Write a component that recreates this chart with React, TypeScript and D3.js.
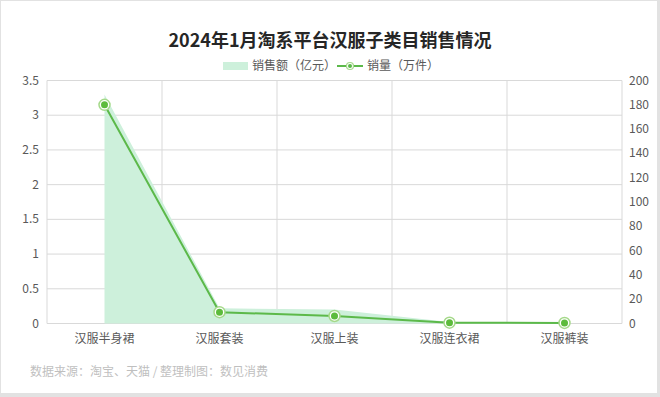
import React from "react";
import * as d3 from "d3";

const categories = ["汉服半身裙", "汉服套装", "汉服上装", "汉服连衣裙", "汉服裤装"];
const salesValues = [3.3, 0.22, 0.2, 0.02, 0.01]; // 销售额（亿元）
const volumeValues = [180, 9.3, 6.2, 0.7, 0.5]; // 销量（万件）
const leftTicks = [0, 0.5, 1, 1.5, 2, 2.5, 3, 3.5];
const rightTicks = [0, 20, 40, 60, 80, 100, 120, 140, 160, 180, 200];

const W = 660;
const H = 397;
const FONT = "'Noto Sans CJK SC', 'Noto Sans', sans-serif";

export default function App() {
  const left = 47;
  const right = 622;
  const top = 80.5;
  const bottom = 323.5;

  const x = d3.scaleBand<string>().domain(categories).range([left, right]).padding(0);
  const cx = (c: string) => (x(c) as number) + x.bandwidth() / 2;
  const yL = d3.scaleLinear().domain([0, 3.5]).range([bottom, top]);
  const yR = d3.scaleLinear().domain([0, 200]).range([bottom, top]);

  const areaGen = d3
    .area<number>()
    .x((_, i) => cx(categories[i]))
    .y0(bottom)
    .y1((d) => yL(d));
  const lineGen = d3
    .line<number>()
    .x((_, i) => cx(categories[i]))
    .y((d) => yR(d));

  const boundaries = categories.map((c) => x(c) as number).concat([right]);
  const grid = "#d9d9d9";
  const lineColor = "#5cb94a";
  const areaColor = "#cdf0db";

  return (
    <svg
      width={W}
      height={H}
      style={{ position: "absolute", left: 0, top: 0, display: "block" }}
      fontFamily={FONT}
    >
      <rect x={0} y={0} width={W} height={H} fill="#e2e2e2" />
      <rect x={1} y={1} width={W - 4} height={H - 5} fill="#ffffff" />

      <text x={330} y={47} textAnchor="middle" fontSize={18} fontWeight="bold" fill="#262626">
        2024年1月淘系平台汉服子类目销售情况
      </text>

      {/* legend */}
      <rect x={223} y={62} width={25} height={8} fill={areaColor} />
      <text x={252} y={70} fontSize={12} fill="#595959">
        销售额（亿元）
      </text>
      <line x1={337} x2={363} y1={66} y2={66} stroke={lineColor} strokeWidth={2} />
      <circle cx={350} cy={66} r={3.5} fill="#fff" stroke="#a5d98a" strokeWidth={1.2} />
      <circle cx={350} cy={66} r={2} fill={lineColor} />
      <text x={367} y={70} fontSize={12} fill="#595959">
        销量（万件）
      </text>

      {/* gridlines */}
      {leftTicks.map((t) => (
        <line key={"h" + t} x1={left} x2={right} y1={yL(t)} y2={yL(t)} stroke={grid} strokeWidth={1} />
      ))}
      {boundaries.map((b, i) => (
        <line key={"v" + i} x1={b} x2={b} y1={top} y2={bottom} stroke={grid} strokeWidth={1} />
      ))}

      {/* area */}
      <path d={areaGen(salesValues) || ""} fill={areaColor} />

      {/* line */}
      <path d={lineGen(volumeValues) || ""} fill="none" stroke={lineColor} strokeWidth={2} />
      {volumeValues.map((v, i) => (
        <g key={"m" + i}>
          <circle cx={cx(categories[i])} cy={yR(v)} r={5.5} fill="#fff" stroke="#a5d98a" strokeWidth={1.5} />
          <circle cx={cx(categories[i])} cy={yR(v)} r={3.5} fill="#5dbb3c" />
        </g>
      ))}

      {/* left axis labels */}
      {leftTicks.map((t) => (
        <text key={"l" + t} x={39} y={yL(t) + 4} textAnchor="end" fontSize={12} fill="#595959">
          {d3.format("")(t)}
        </text>
      ))}
      {/* right axis labels */}
      {rightTicks.map((t) => (
        <text key={"r" + t} x={629} y={yR(t) + 4} textAnchor="start" fontSize={12} fill="#595959">
          {t}
        </text>
      ))}
      {/* x labels */}
      {categories.map((c) => (
        <text key={c} x={cx(c)} y={343} textAnchor="middle" fontSize={12} fill="#595959">
          {c}
        </text>
      ))}

      <text x={30} y={376} fontSize={12} fill="#bfbfbf">
        数据来源：淘宝、天猫 / 整理制图：数见消费
      </text>
    </svg>
  );
}
